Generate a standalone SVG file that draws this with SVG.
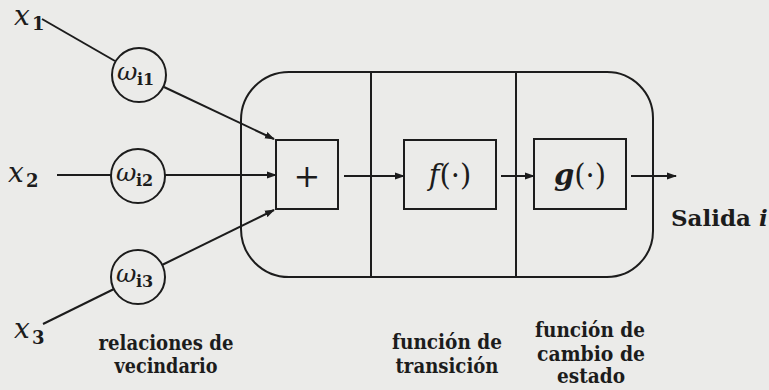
<svg xmlns="http://www.w3.org/2000/svg" width="769" height="390" viewBox="0 0 769 390">
<defs>
<style>
.ln{stroke:#1c1c1c;stroke-width:2;fill:none}
.bx{stroke:#1c1c1c;stroke-width:2;fill:none}
.lbl{font-family:"DejaVu Serif","Liberation Serif",serif;font-weight:bold;font-size:20px;fill:#1c1c1c;text-anchor:middle}
.math{font-family:"DejaVu Serif","Liberation Serif",serif;font-style:italic;fill:#1c1c1c}
.sub{font-family:"DejaVu Serif","Liberation Serif",serif;font-weight:bold;fill:#1c1c1c}
.fn{font-family:"DejaVu Serif","Liberation Serif",serif;fill:#1c1c1c;text-anchor:middle}
</style>
<marker id="ah" markerWidth="10" markerHeight="8" refX="9" refY="4" orient="auto" markerUnits="userSpaceOnUse">
<path d="M0,0.5 L10,4 L0,7.5 Z" fill="#1c1c1c"/>
</marker>
</defs>
<rect width="769" height="390" fill="#ebebe9"/>
<g id="outer">
<path class="bx" d="M289 72 H607 A46 46 0 0 1 653 118 V231 A46 46 0 0 1 607 277 H289 A48 48 0 0 1 241 229 V120 A48 48 0 0 1 289 72 Z"/>
<line class="ln" x1="371" y1="72" x2="371" y2="277"/>
<line class="ln" x1="516" y1="72" x2="516" y2="277"/>
</g>
<g id="x1"><text class="math" x="14" y="25" font-size="28">x</text><text class="sub" x="32" y="30" font-size="18">1</text></g>
<g id="x2"><text class="math" x="8" y="182" font-size="28">x</text><text class="sub" x="26" y="187" font-size="18">2</text></g>
<g id="x3"><text class="math" x="14" y="338" font-size="28">x</text><text class="sub" x="32" y="344" font-size="18">3</text></g>
<g id="w1"><circle class="bx" cx="139" cy="75" r="27"/><text class="math" x="117" y="80" font-size="25">ω</text><text class="sub" x="137" y="85" font-size="16">i1</text></g>
<g id="w2"><circle class="bx" cx="138" cy="176" r="27"/><text class="math" x="116" y="181" font-size="25">ω</text><text class="sub" x="136" y="186" font-size="16">i2</text></g>
<g id="w3"><circle class="bx" cx="138" cy="277" r="27"/><text class="math" x="116" y="282" font-size="25">ω</text><text class="sub" x="136" y="287" font-size="16">i3</text></g>
<g id="sum"><rect class="bx" x="276" y="140" width="62" height="69"/><text class="fn" x="307" y="187" font-size="32">+</text></g>
<g id="f"><rect class="bx" x="404" y="140" width="92" height="69"/><text class="fn" x="450" y="185" font-size="29"><tspan font-style="italic">f</tspan>(·)</text></g>
<g id="g"><rect class="bx" x="534" y="139" width="92" height="70"/><text class="fn" x="580" y="185" font-size="29"><tspan font-style="italic" font-weight="bold">g</tspan>(·)</text></g>
<g id="connectors">
<line class="ln" x1="42" y1="19" x2="115" y2="61"/>
<line class="ln" x1="164" y1="87" x2="274" y2="139" marker-end="url(#ah)"/>
<line class="ln" x1="57" y1="175" x2="111" y2="175"/>
<line class="ln" x1="165" y1="175" x2="276" y2="175" marker-end="url(#ah)"/>
<line class="ln" x1="43" y1="324" x2="114" y2="289"/>
<line class="ln" x1="162" y1="265" x2="274" y2="210" marker-end="url(#ah)"/>
<line class="ln" x1="344" y1="176" x2="404" y2="176" marker-end="url(#ah)"/>
<line class="ln" x1="501" y1="176" x2="534" y2="176" marker-end="url(#ah)"/>
<line class="ln" x1="631" y1="176" x2="676" y2="176" marker-end="url(#ah)"/>
</g>
<g id="labels">
<text class="lbl" x="166" y="350" textLength="135" lengthAdjust="spacingAndGlyphs">relaciones de</text>
<text class="lbl" x="166" y="373" textLength="103" lengthAdjust="spacingAndGlyphs">vecindario</text>
<text class="lbl" x="447" y="349" textLength="110" lengthAdjust="spacingAndGlyphs">función de</text>
<text class="lbl" x="447" y="373" textLength="103" lengthAdjust="spacingAndGlyphs">transición</text>
<text class="lbl" x="590" y="337" textLength="110" lengthAdjust="spacingAndGlyphs">función de</text>
<text class="lbl" x="591" y="361" textLength="108" lengthAdjust="spacingAndGlyphs">cambio de</text>
<text class="lbl" x="591" y="383" textLength="68" lengthAdjust="spacingAndGlyphs">estado</text>
<text x="671" y="226" font-family="DejaVu Serif,Liberation Serif,serif" font-weight="bold" font-size="23" fill="#1c1c1c">Salida <tspan font-style="italic">i</tspan></text>
</g>
</svg>
